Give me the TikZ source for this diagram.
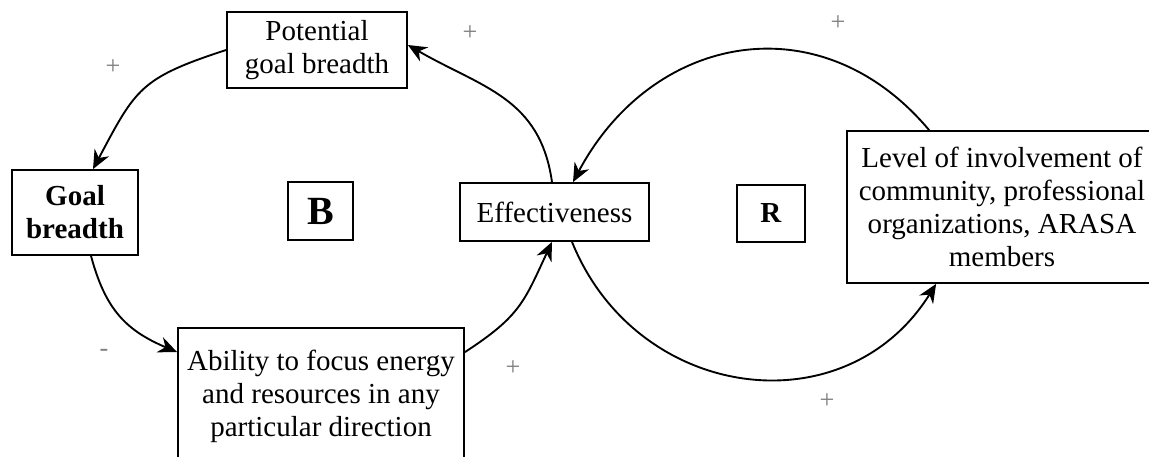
\documentclass[tikz,border=0pt]{standalone}
\usepackage{fontspec}
\setmainfont{Liberation Serif}
\usetikzlibrary{arrows.meta}

\begin{document}
\begin{tikzpicture}[x=0.4pt, y=0.4pt,
    box/.style={draw, line width=0.7pt, align=center, inner sep=2pt,
      font=\fontsize{11.6}{13.2}\selectfont},
    sgn/.style={text=black!50, inner sep=0pt, font=\fontsize{10.5}{12}\selectfont},
    link/.style={line width=0.75pt, -{Stealth[length=7.5pt, width=6.5pt]}, looseness=1.2}]
  \useasboundingbox (0,0) rectangle (1149,-457);

  % balancing loop
  \node[box, minimum width=72pt, minimum height=30.4pt] (pot) at (317,-50) {Potential\\goal breadth};
  \node[box, minimum width=50.4pt, minimum height=34pt] (goal) at (75,-212.5) {\textbf{Goal}\\\textbf{breadth}};
  \node[box, minimum width=114.4pt, minimum height=54.8pt] (abl) at (321,-396.5) {Ability to focus energy\\and resources in any\\particular direction};
  \node[box, minimum width=26pt, minimum height=23.2pt] (bl) at (320.5,-211) {\fontsize{16}{18}\selectfont\textbf{B}};
  \node[box, minimum width=75.6pt, minimum height=23.2pt] (eff) at (554.5,-212) {Effectiveness};

  % reinforcing loop
  \node[box, minimum width=27.2pt, minimum height=22.8pt] (rl) at (771,-213.5) {\textbf{R}};
  \node[box, minimum width=124pt, minimum height=60.8pt] (lvl) at (1002,-207) {Level of involvement of\\community, professional\\organizations, ARASA\\members};

  \draw[link] (pot.west) to[out=198, in=62, looseness=1.3] ([xshift=7.2pt]goal.north);
  \draw[link] ([xshift=6.4pt]goal.south) to[out=-75, in=157, looseness=1.1] ([yshift=-10pt]abl.north west);
  \draw[link] ([yshift=-10pt]abl.north east) to[out=33, in=-115] ([xshift=-1pt]eff.south);
  \draw[link] ([xshift=-1pt]eff.north) to[out=98, in=-30, looseness=1.1] ([yshift=2pt]pot.east);
  \draw[link] ([xshift=33.2pt]lvl.north west) to[out=130, in=62] ([xshift=7.4pt]eff.north);
  \draw[link] ([xshift=7pt]eff.south) to[out=-68, in=-122] ([xshift=36pt]lvl.south west);

  % polarities
  \node[sgn] (s1) at (113,-67) {+};
  \node[sgn] (s2) at (470,-33) {+};
  \node[sgn] (s3) at (838,-23) {+};
  \node[sgn] (s4) at (104,-353) {-};
  \node[sgn] (s5) at (513,-368) {+};
  \node[sgn] (s6) at (827,-401) {+};
\end{tikzpicture}
\end{document}
